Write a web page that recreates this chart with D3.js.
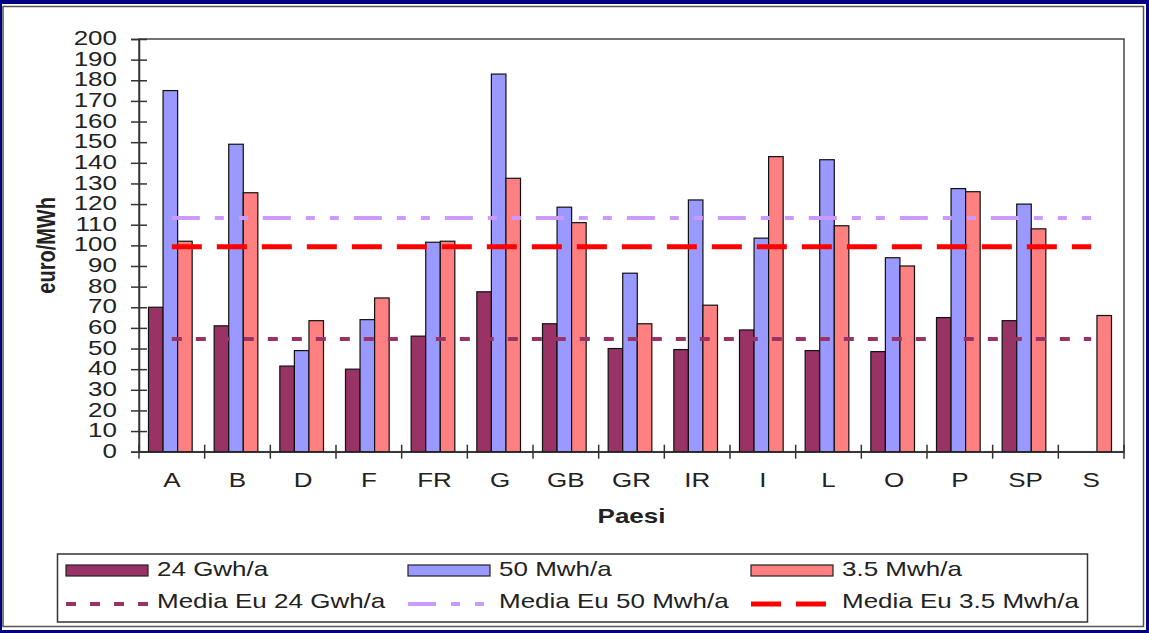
<!DOCTYPE html>
<html>
<head>
<meta charset="utf-8">
<script src="https://cdn.jsdelivr.net/npm/d3@7"></script>
<style>
  html, body { margin: 0; padding: 0; background: #fff; }
  svg { display: block; }
  text { font-family: "Liberation Sans", Arial, sans-serif; fill: #222; }
</style>
</head>
<body>
<svg id="chart" width="1149" height="633"></svg>
<script>
// ---------- data ----------
const categories = ["A","B","D","F","FR","G","GB","GR","IR","I","L","O","P","SP","S"];
const s24Gwh  = [70, 61, 41.5, 40, 56, 77.5, 62, 50, 49.5, 59, 49, 48.5, 65, 63.5, null];
const s50Mwh  = [175, 149, 49, 64, 101.5, 183, 118.5, 86.5, 122, 103.5, 141.5, 94, 127.5, 120, null];
const s35Mwh  = [102, 125.5, 63.5, 74.5, 102, 132.5, 111, 62, 71, 143, 109.5, 90, 126, 108, 66];
const seriesNames = ["24 Gwh/a", "50 Mwh/a", "3.5 Mwh/a"];
const avgNames = ["Media Eu 24 Gwh/a", "Media Eu 50 Mwh/a", "Media Eu 3.5 Mwh/a"];
const avgValues = [54.6, 113.3, 99.3];
const yTicks = [0,10,20,30,40,50,60,70,80,90,100,110,120,130,140,150,160,170,180,190,200];
const yLabel = "euro/MWh";
const xLabel = "Paesi";

// ---------- styles ----------
const barColors = ["#993366", "#9999FF", "#FF8080"];
const lineColors = ["#993366", "#CC99FF", "#FF0000"];
const lineDash = ["10,14", "28,15,9,15,9,15", "30,15"];
const lineWidth = [4, 4, 5];
const SX = 1.3; // horizontal stretch of the original text

const svg = d3.select("#chart");
const W = 1149, H = 633;

// outer frame
svg.append("rect").attr("x",0).attr("y",0).attr("width",W).attr("height",H).attr("fill","#fff");
svg.append("rect").attr("x",0).attr("y",0).attr("width",W).attr("height",4).attr("fill","#000080");
svg.append("rect").attr("x",0).attr("y",0).attr("width",2).attr("height",H).attr("fill","#000080");
svg.append("rect").attr("x",W-3).attr("y",0).attr("width",3).attr("height",H).attr("fill","#000080");
svg.append("rect").attr("x",0).attr("y",H-3).attr("width",W).attr("height",3).attr("fill","#000080");
svg.append("rect").attr("x",3).attr("y",6.5).attr("width",1140.5).attr("height",620)
  .attr("fill","none").attr("stroke","#555").attr("stroke-width",1.5);

// ---------- plot geometry ----------
const plot = {left: 139, right: 1124, top: 39, bottom: 451.7};

const x = d3.scaleBand().domain(categories).range([plot.left, plot.right]).padding(0);
const bw = x.bandwidth();
const gap = bw * 0.335;
const x1 = d3.scaleBand().domain(seriesNames).range([gap/2 - 1.5, bw - gap/2 - 1.5]).padding(0);
const y = d3.scaleLinear().domain([0, 200]).range([plot.bottom, plot.top]);

// plot area border
svg.append("rect").attr("x",plot.left).attr("y",plot.top)
  .attr("width",plot.right-plot.left).attr("height",plot.bottom-plot.top)
  .attr("fill","#fff").attr("stroke","#444").attr("stroke-width",1.5);

// ---------- bars ----------
const seriesData = [s24Gwh, s50Mwh, s35Mwh];
seriesData.forEach((vals, si) => {
  svg.append("g").selectAll("rect")
    .data(categories.map((c, i) => ({c, v: vals[i]})).filter(d => d.v != null))
    .join("rect")
    .attr("x", d => x(d.c) + x1(seriesNames[si]))
    .attr("y", d => y(d.v))
    .attr("width", x1.bandwidth())
    .attr("height", d => y(0) - y(d.v))
    .attr("fill", barColors[si])
    .attr("stroke", "#111")
    .attr("stroke-width", 1.2);
});

// ---------- average lines ----------
const firstC = x(categories[0]) + bw/2;
const lastC = x(categories[categories.length-1]) + bw/2;
const drawOrder = [1, 2, 0];
drawOrder.forEach(i => {
  const line = d3.line().x(d => d[0]).y(d => y(d[1]));
  svg.append("path")
    .attr("d", line([[firstC, avgValues[i]], [lastC, avgValues[i]]]))
    .attr("fill","none")
    .attr("stroke", lineColors[i])
    .attr("stroke-width", lineWidth[i])
    .attr("stroke-dasharray", lineDash[i]);
});

// ---------- axes ----------
const yAxis = svg.append("g").attr("transform", `translate(${plot.left},0)`)
  .call(d3.axisLeft(y).tickValues(yTicks).tickSize(8).tickPadding(0));
yAxis.select(".domain").attr("stroke","#333").attr("stroke-width",1.5);
yAxis.selectAll(".tick line").attr("x1", 8).attr("x2", -8).attr("stroke","#333").attr("stroke-width",1.5);
yAxis.selectAll(".tick text")
  .attr("x", -22 / SX).attr("dy", "0.28em")
  .attr("transform", `scale(${SX},1)`)
  .style("font-size","20px").style("font-family","'Liberation Sans', Arial, sans-serif")
  .attr("fill","#222");

const xAxis = svg.append("g").attr("transform", `translate(0,${plot.bottom})`)
  .call(d3.axisBottom(x).tickSize(0).tickPadding(0));
xAxis.select(".domain").attr("stroke","#333").attr("stroke-width",1.5);
xAxis.selectAll(".tick text")
  .attr("y", 35).attr("dy", 0)
  .attr("transform", `scale(${SX},1)`)
  .style("font-size","20px").style("font-family","'Liberation Sans', Arial, sans-serif")
  .attr("fill","#222");
// category boundary tick marks (cross)
const bounds = categories.map(c => x(c)).concat([plot.right]);
svg.append("g").selectAll("line").data(bounds).join("line")
  .attr("x1", d => d).attr("x2", d => d)
  .attr("y1", plot.bottom - 7).attr("y2", plot.bottom + 7)
  .attr("stroke","#333").attr("stroke-width",1.5);

// axis titles
svg.append("text")
  .attr("transform", `translate(55,${(plot.top+plot.bottom)/2}) scale(${SX},1) rotate(-90)`)
  .attr("text-anchor","middle")
  .style("font-size","20px").style("font-weight","bold")
  .attr("fill","#111")
  .text(yLabel);
svg.append("text")
  .attr("transform", `translate(${(plot.left+plot.right)/2},523) scale(${SX},1)`)
  .attr("text-anchor","middle")
  .style("font-size","20px").style("font-weight","bold")
  .attr("fill","#111")
  .text(xLabel);

// ---------- legend ----------
const legend = svg.append("g");
legend.append("rect").attr("x",57.5).attr("y",554).attr("width",1030).attr("height",68)
  .attr("fill","#fff").attr("stroke","#333").attr("stroke-width",1.5);
const colX = [66, 408, 751];
seriesNames.forEach((n, i) => {
  legend.append("rect").attr("x", colX[i]).attr("y", 565).attr("width", 82).attr("height", 11)
    .attr("fill", barColors[i]).attr("stroke","#222").attr("stroke-width",1.2);
  legend.append("text")
    .attr("transform", `translate(${colX[i]+91},575.5) scale(${SX},1)`)
    .style("font-size","20px").text(n);
});
avgNames.forEach((n, i) => {
  legend.append("line").attr("x1", colX[i]).attr("x2", colX[i] + 82)
    .attr("y1", 604).attr("y2", 604)
    .attr("stroke", lineColors[i]).attr("stroke-width", lineWidth[i])
    .attr("stroke-dasharray", lineDash[i]);
  legend.append("text")
    .attr("transform", `translate(${colX[i]+91},608) scale(${SX},1)`)
    .style("font-size","20px").text(n);
});
</script>
</body>
</html>
